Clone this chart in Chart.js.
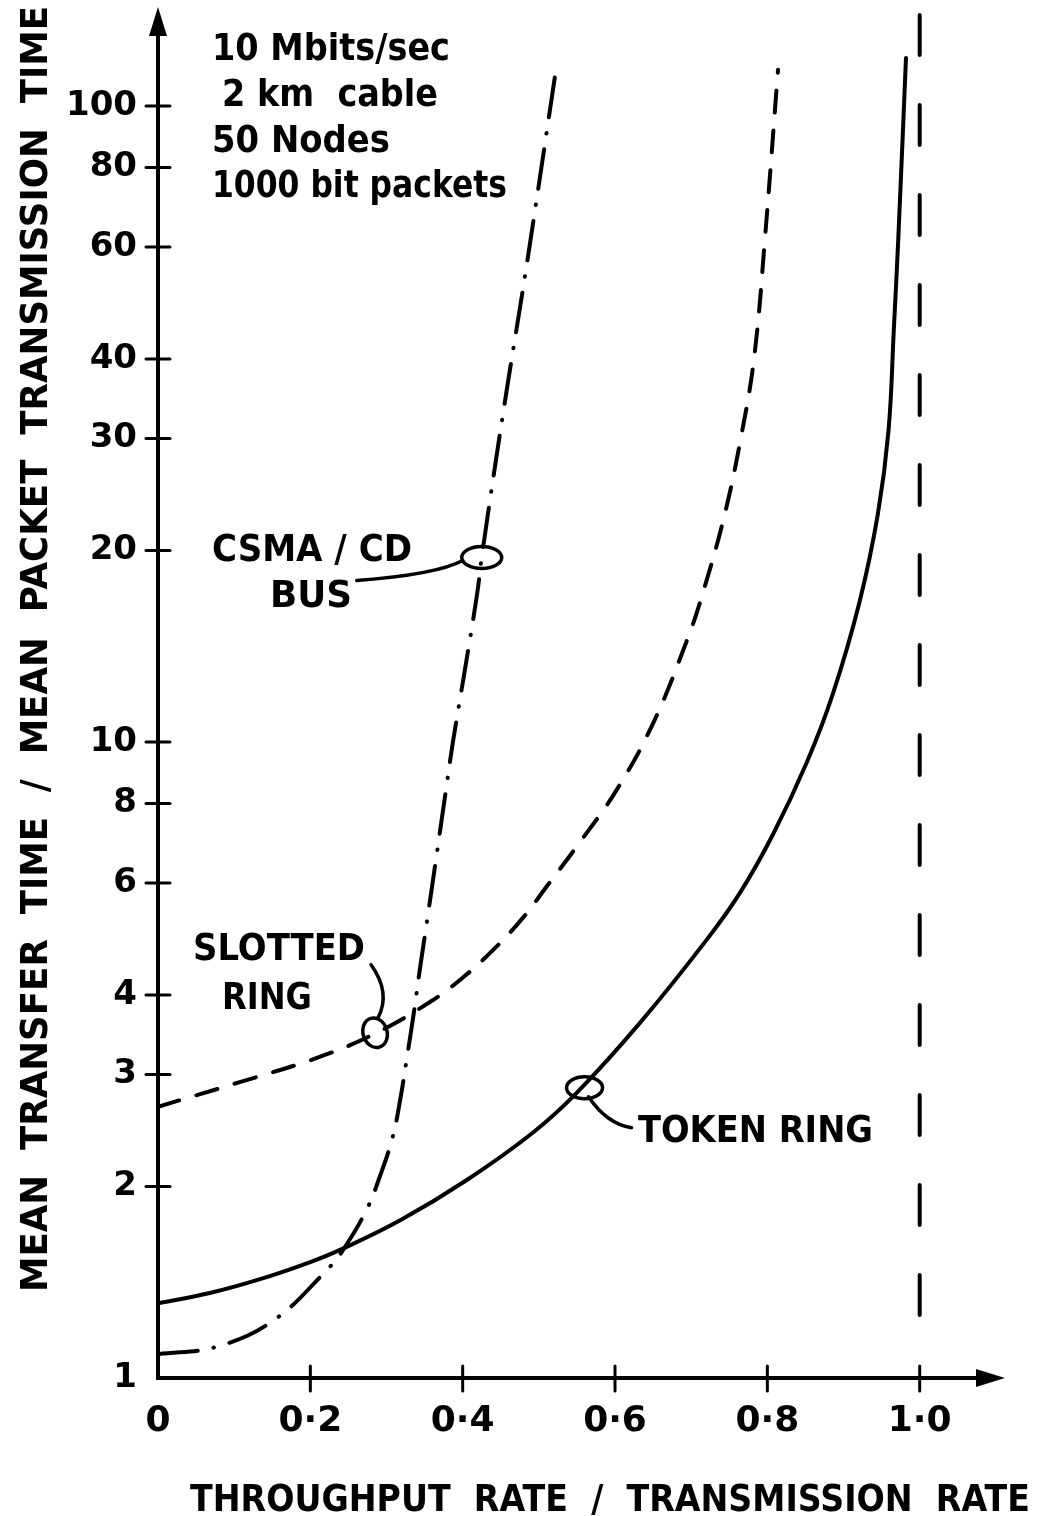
<!DOCTYPE html>
<html>
<head>
<meta charset="utf-8">
<title>Mean transfer time vs throughput</title>
<script src="https://cdn.jsdelivr.net/npm/chart.js@4.4.1/dist/chart.umd.min.js"></script>
<style>
  html, body { margin: 0; padding: 0; background: #fff; }
  #wrap { width: 1044px; height: 1516px; }
</style>
</head>
<body>
<div id="wrap"><canvas id="chart" width="1044" height="1516"></canvas></div>
<script>
// ===== Data =====
const xTicks = [0, 0.2, 0.4, 0.6, 0.8, 1.0];
const yTicks = [1, 2, 3, 4, 6, 8, 10, 20, 30, 40, 60, 80, 100];

// Token ring (solid)
const tokenX = [0, 0.068, 0.134, 0.199, 0.239, 0.318, 0.406, 0.492, 0.550, 0.633, 0.720, 0.764, 0.807, 0.852, 0.886, 0.921, 0.945, 0.959, 0.966, 0.972, 0.982];
const tokenY = [1.31, 1.36, 1.43, 1.52, 1.59, 1.77, 2.05, 2.43, 2.81, 3.62, 4.88, 5.79, 7.14, 9.30, 11.9, 16.6, 22.8, 30.8, 44.4, 62.2, 119];

// Slotted ring (dashed)
const slottedX = [0, 0.104, 0.213, 0.287, 0.357, 0.400, 0.440, 0.479, 0.510, 0.554, 0.602, 0.650, 0.694, 0.715, 0.744, 0.766, 0.783, 0.797, 0.814];
const slottedY = [2.67, 2.91, 3.20, 3.49, 3.90, 4.26, 4.71, 5.29, 5.92, 6.96, 8.40, 10.7, 14.4, 17.1, 22.8, 30.4, 40.5, 62.2, 114];

// CSMA/CD bus (dash-dot)
const csmaX = [0, 0.077, 0.151, 0.222, 0.243, 0.274, 0.291, 0.308, 0.318, 0.327, 0.336, 0.344, 0.353, 0.366, 0.379, 0.387, 0.403, 0.419, 0.425, 0.442, 0.459, 0.479, 0.495, 0.521];
const csmaY = [1.09, 1.12, 1.23, 1.48, 1.59, 1.84, 2.07, 2.39, 2.74, 3.20, 3.76, 4.41, 5.21, 6.67, 8.56, 9.96, 13.0, 17.1, 19.5, 26.9, 36.5, 51.4, 68.6, 111];

// Capacity limit (long dashes at throughput = 1)
const limitX = [1.0, 1.0];
const limitY = [139, 1.05];

// where the little loops sit on each curve
const csmaMark = [0.425, 19.5];
const slottedMark = [0.285, 3.49];
const tokenMark = [0.56, 2.86];

const FONT = "'DejaVu Sans', 'Liberation Sans', sans-serif";

function pts(xs, ys) {
    return xs.map((x, i) => ({ x: x, y: ys[i] }));
}

// draw text stretched/squeezed to a given width, centred on cy
function fitText(ctx, text, left, cy, width, size) {
    ctx.font = `bold ${size}px ${FONT}`;
    const m = ctx.measureText(text).width;
    ctx.save();
    ctx.translate(left, cy + size * 0.365);
    ctx.scale(width / m, 1);
    ctx.textAlign = 'left';
    ctx.textBaseline = 'alphabetic';
    ctx.fillText(text, 0, 0);
    ctx.restore();
}

const decorPlugin = {
    id: 'decor',
    afterDraw(chart) {
        const { ctx, chartArea: a } = chart;
        const xs = chart.scales.x, ys = chart.scales.y;
        ctx.save();
        ctx.strokeStyle = '#000';
        ctx.fillStyle = '#000';
        ctx.lineCap = 'round';

        // axes
        ctx.lineWidth = 4;
        ctx.beginPath();
        ctx.moveTo(a.left, a.top + 10);
        ctx.lineTo(a.left, a.bottom);
        ctx.lineTo(a.right - 10, a.bottom);
        ctx.stroke();

        // arrow heads
        ctx.beginPath();
        ctx.moveTo(a.left, a.top - 5);
        ctx.lineTo(a.left - 9, a.top + 24);
        ctx.lineTo(a.left + 9, a.top + 24);
        ctx.closePath();
        ctx.fill();
        ctx.beginPath();
        ctx.moveTo(a.right, a.bottom);
        ctx.lineTo(a.right - 29, a.bottom - 9);
        ctx.lineTo(a.right - 29, a.bottom + 9);
        ctx.closePath();
        ctx.fill();

        // tick marks crossing the axes
        ctx.lineWidth = 3;
        yTicks.slice(1).forEach(v => {
            const py = ys.getPixelForValue(v);
            ctx.beginPath();
            ctx.moveTo(a.left - 12, py);
            ctx.lineTo(a.left + 12, py);
            ctx.stroke();
        });
        xTicks.slice(1).forEach(v => {
            const px = xs.getPixelForValue(v);
            ctx.beginPath();
            ctx.moveTo(px, a.bottom - 12);
            ctx.lineTo(px, a.bottom + 13);
            ctx.stroke();
        });

        // axis titles
        fitText(ctx, 'THROUGHPUT  RATE  /  TRANSMISSION  RATE', 190, 1497, 840, 38);
        ctx.save();
        ctx.translate(33, 1292);
        ctx.rotate(-Math.PI / 2);
        fitText(ctx, 'MEAN  TRANSFER  TIME  /  MEAN  PACKET  TRANSMISSION  TIME', 0, 0, 1286, 38);
        ctx.restore();

        // conditions
        fitText(ctx, '10 Mbits/sec', 212, 46, 238, 38);
        fitText(ctx, '2 km  cable', 222, 92, 216, 38);
        fitText(ctx, '50 Nodes', 212, 138, 178, 38);
        fitText(ctx, '1000 bit packets', 212, 183, 295, 38);

        // curve labels
        fitText(ctx, 'CSMA / CD', 212, 547, 200, 38);
        fitText(ctx, 'BUS', 270, 593, 82, 38);
        fitText(ctx, 'SLOTTED', 193, 946, 172, 38);
        fitText(ctx, 'RING', 222, 995, 90, 38);
        fitText(ctx, 'TOKEN RING', 638, 1128, 235, 38);

        // loops and leader lines
        ctx.lineWidth = 3.5;
        let cx = xs.getPixelForValue(csmaMark[0]), cy = ys.getPixelForValue(csmaMark[1]);
        ctx.beginPath();
        ctx.ellipse(cx, cy, 20, 11, 0, 0, Math.PI * 2);
        ctx.stroke();
        ctx.beginPath();
        ctx.moveTo(cx - 19, cy + 3);
        ctx.quadraticCurveTo(cx - 45, cy + 17, cx - 125, cy + 23);
        ctx.stroke();

        cx = xs.getPixelForValue(slottedMark[0]); cy = ys.getPixelForValue(slottedMark[1]);
        ctx.beginPath();
        ctx.ellipse(cx, cy, 12, 15, -0.3, 0, Math.PI * 2);
        ctx.stroke();
        ctx.beginPath();
        ctx.moveTo(cx - 4, cy - 68);
        ctx.quadraticCurveTo(cx + 16, cy - 40, cx + 3, cy - 15);
        ctx.stroke();

        cx = xs.getPixelForValue(tokenMark[0]); cy = ys.getPixelForValue(tokenMark[1]);
        ctx.beginPath();
        ctx.ellipse(cx, cy, 18, 11, 0, 0, Math.PI * 2);
        ctx.stroke();
        ctx.beginPath();
        ctx.moveTo(cx + 4, cy + 9);
        ctx.quadraticCurveTo(cx + 22, cy + 36, cx + 47, cy + 40);
        ctx.stroke();

        ctx.restore();
    }
};

const lineBase = {
    borderColor: '#000',
    borderWidth: 4,
    borderCapStyle: 'round',
    pointRadius: 0,
    fill: false,
    tension: 0.4
};

new Chart(document.getElementById('chart'), {
    type: 'line',
    data: {
        datasets: [
            { ...lineBase, label: 'Token ring', data: pts(tokenX, tokenY) },
            { ...lineBase, label: 'Slotted ring', data: pts(slottedX, slottedY), borderDash: [22, 18] },
            { ...lineBase, label: 'CSMA/CD bus', data: pts(csmaX, csmaY), borderDash: [40, 16, 0.5, 16] },
            { ...lineBase, label: 'Limit', data: pts(limitX, limitY), borderDash: [40, 50], tension: 0 }
        ]
    },
    options: {
        responsive: false,
        animation: false,
        devicePixelRatio: 1,
        layout: { padding: { top: 12, right: 39, left: 0, bottom: 0 } },
        plugins: { legend: { display: false }, tooltip: { enabled: false } },
        scales: {
            x: {
                type: 'linear',
                min: 0,
                max: 1.112,
                grid: { display: false, drawTicks: false },
                border: { display: false },
                afterBuildTicks: s => { s.ticks = xTicks.map(v => ({ value: v })); },
                afterFit: s => {
                    s.height = 138;
                    s.paddingLeft = 0;
                    s.paddingRight = 0;
                },
                ticks: {
                    autoSkip: false,
                    maxRotation: 0,
                    padding: 22,
                    color: '#000',
                    font: { family: FONT, size: 36, weight: 'bold' },
                    callback: v => v === 0 ? '0' : v.toFixed(1).replace('.', '·')
                }
            },
            y: {
                type: 'logarithmic',
                min: 1,
                max: 140.5,
                grid: { display: false, drawTicks: false },
                border: { display: false },
                afterBuildTicks: s => { s.ticks = yTicks.map(v => ({ value: v })); },
                afterFit: s => {
                    s.width = 158;
                    s.paddingTop = 0;
                    s.paddingBottom = 0;
                },
                ticks: {
                    autoSkip: false,
                    padding: 21,
                    color: '#000',
                    font: { family: FONT, size: 34, weight: 'bold' },
                    callback: v => String(v)
                }
            }
        }
    },
    plugins: [decorPlugin]
});
</script>
</body>
</html>
